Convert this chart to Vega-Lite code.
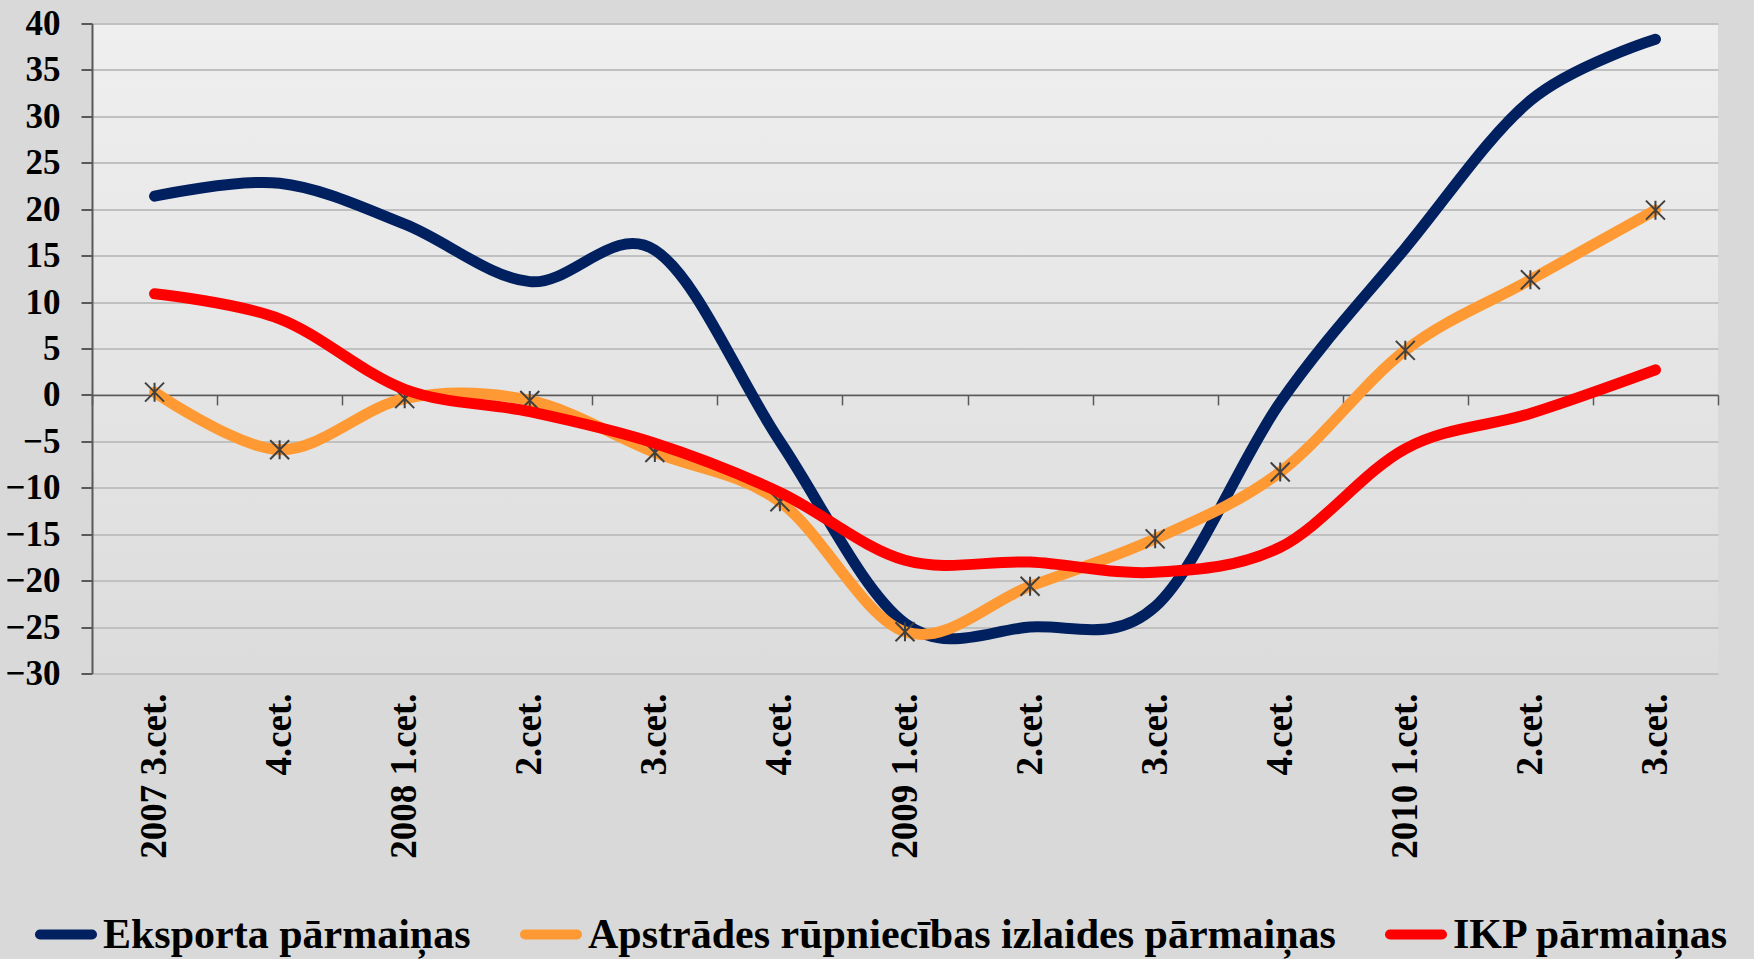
{
  "$schema": "https://vega.github.io/schema/vega-lite/v6.json",
  "width": 1626,
  "height": 650,
  "autosize": {"type": "none"},
  "padding": {"left": 92, "top": 23.5, "right": 36, "bottom": 285.5},
  "background": "#d9d9d9",
  "config": {
    "view": {
      "stroke": null,
      "fill": {"gradient": "linear", "x1": 0, "y1": 0, "x2": 0, "y2": 1, "stops": [{"offset": 0, "color": "#efefef"}, {"offset": 1, "color": "#dcdcdc"}]}
    },
    "font": "Liberation Serif"
  },
  "data": {
    "values": [
      {"q": "2007 3.cet.", "s": "Eksporta pārmaiņas", "v": 21.4},
      {"q": "2007 4.cet.", "s": "Eksporta pārmaiņas", "v": 22.8},
      {"q": "2008 1.cet.", "s": "Eksporta pārmaiņas", "v": 18.4},
      {"q": "2008 2.cet.", "s": "Eksporta pārmaiņas", "v": 12.2},
      {"q": "2008 3.cet.", "s": "Eksporta pārmaiņas", "v": 15.6},
      {"q": "2008 4.cet.", "s": "Eksporta pārmaiņas", "v": -5.0},
      {"q": "2009 1.cet.", "s": "Eksporta pārmaiņas", "v": -24.6},
      {"q": "2009 2.cet.", "s": "Eksporta pārmaiņas", "v": -25.0},
      {"q": "2009 3.cet.", "s": "Eksporta pārmaiņas", "v": -22.8},
      {"q": "2009 4.cet.", "s": "Eksporta pārmaiņas", "v": -0.8},
      {"q": "2010 1.cet.", "s": "Eksporta pārmaiņas", "v": 15.8},
      {"q": "2010 2.cet.", "s": "Eksporta pārmaiņas", "v": 31.7},
      {"q": "2010 3.cet.", "s": "Eksporta pārmaiņas", "v": 38.3},
      {"q": "2007 3.cet.", "s": "Apstrādes rūpniecības izlaides pārmaiņas", "v": 0.3},
      {"q": "2007 4.cet.", "s": "Apstrādes rūpniecības izlaides pārmaiņas", "v": -5.9},
      {"q": "2008 1.cet.", "s": "Apstrādes rūpniecības izlaides pārmaiņas", "v": -0.4},
      {"q": "2008 2.cet.", "s": "Apstrādes rūpniecības izlaides pārmaiņas", "v": -0.6},
      {"q": "2008 3.cet.", "s": "Apstrādes rūpniecības izlaides pārmaiņas", "v": -6.2},
      {"q": "2008 4.cet.", "s": "Apstrādes rūpniecības izlaides pārmaiņas", "v": -11.5},
      {"q": "2009 1.cet.", "s": "Apstrādes rūpniecības izlaides pārmaiņas", "v": -25.5},
      {"q": "2009 2.cet.", "s": "Apstrādes rūpniecības izlaides pārmaiņas", "v": -20.6},
      {"q": "2009 3.cet.", "s": "Apstrādes rūpniecības izlaides pārmaiņas", "v": -15.5},
      {"q": "2009 4.cet.", "s": "Apstrādes rūpniecības izlaides pārmaiņas", "v": -8.3},
      {"q": "2010 1.cet.", "s": "Apstrādes rūpniecības izlaides pārmaiņas", "v": 4.8},
      {"q": "2010 2.cet.", "s": "Apstrādes rūpniecības izlaides pārmaiņas", "v": 12.4},
      {"q": "2010 3.cet.", "s": "Apstrādes rūpniecības izlaides pārmaiņas", "v": 19.9},
      {"q": "2007 3.cet.", "s": "IKP pārmaiņas", "v": 10.9},
      {"q": "2007 4.cet.", "s": "IKP pārmaiņas", "v": 8.2},
      {"q": "2008 1.cet.", "s": "IKP pārmaiņas", "v": 0.6},
      {"q": "2008 2.cet.", "s": "IKP pārmaiņas", "v": -1.8},
      {"q": "2008 3.cet.", "s": "IKP pārmaiņas", "v": -5.2},
      {"q": "2008 4.cet.", "s": "IKP pārmaiņas", "v": -10.5},
      {"q": "2009 1.cet.", "s": "IKP pārmaiņas", "v": -17.8},
      {"q": "2009 2.cet.", "s": "IKP pārmaiņas", "v": -18.0},
      {"q": "2009 3.cet.", "s": "IKP pārmaiņas", "v": -19.1},
      {"q": "2009 4.cet.", "s": "IKP pārmaiņas", "v": -16.4},
      {"q": "2010 1.cet.", "s": "IKP pārmaiņas", "v": -5.8},
      {"q": "2010 2.cet.", "s": "IKP pārmaiņas", "v": -2.0},
      {"q": "2010 3.cet.", "s": "IKP pārmaiņas", "v": 2.7}
    ]
  },
  "encoding": {
    "x": {
      "field": "q", "type": "ordinal",
      "scale": {"type": "band", "paddingInner": 0, "paddingOuter": 0,
        "domain": ["2007 3.cet.","2007 4.cet.","2008 1.cet.","2008 2.cet.","2008 3.cet.","2008 4.cet.","2009 1.cet.","2009 2.cet.","2009 3.cet.","2009 4.cet.","2010 1.cet.","2010 2.cet.","2010 3.cet."]},
      "axis": {
        "title": null, "offset": -278.6, "grid": false,
        "domainColor": "#595959", "domainWidth": 1.5,
        "tickBand": "extent", "tickSize": 10, "tickColor": "#595959", "tickWidth": 1.5,
        "labelAngle": -90, "labelAlign": "right", "labelBaseline": "middle",
        "labelPadding": 288, "labelFont": "Liberation Serif", "labelFontWeight": "bold",
        "labelFontSize": 37, "labelColor": "#000000", "labelOverlap": false,
        "labelExpr": "(datum.label == '2007 3.cet.' || test(/ 1\\.cet\\./, datum.label)) ? datum.label : slice(datum.label, 5)"
      }
    },
    "y": {
      "field": "v", "type": "quantitative",
      "scale": {"domain": [-30, 40], "nice": false, "zero": false},
      "axis": {
        "title": null, "values": [-30,-25,-20,-15,-10,-5,0,5,10,15,20,25,30,35,40],
        "grid": true, "gridColor": "#c0c0c0", "gridWidth": 2,
        "domainColor": "#595959", "domainWidth": 2,
        "tickColor": "#595959", "tickWidth": 2, "tickSize": 11,
        "labelPadding": 21, "labelFont": "Liberation Serif", "labelFontWeight": "bold",
        "labelFontSize": 35, "labelColor": "#000000", "labelOverlap": false
      }
    },
    "color": {
      "field": "s", "type": "nominal",
      "scale": {"domain": ["Eksporta pārmaiņas", "Apstrādes rūpniecības izlaides pārmaiņas", "IKP pārmaiņas"], "range": ["#002060", "#ff9933", "#ff0000"]},
      "legend": {
        "title": null, "orient": "none", "direction": "horizontal",
        "legendX": -57, "legendY": 880,
        "symbolType": "stroke", "symbolSize": 2704, "symbolStrokeWidth": 10,
        "labelFont": "Liberation Serif", "labelFontWeight": "bold", "labelFontSize": 42,
        "labelColor": "#000000", "labelOffset": 6, "columnPadding": 34,
        "labelLimit": 1000,
        "encode": {"symbols": {"update": {"strokeCap": {"value": "round"}}}}
      }
    }
  },
  "layer": [
    {
      "transform": [{"filter": "datum.s == 'Eksporta pārmaiņas'"}],
      "mark": {"type": "line", "interpolate": "cardinal", "strokeWidth": 11, "strokeCap": "round"}
    },
    {
      "transform": [{"filter": "datum.s == 'Apstrādes rūpniecības izlaides pārmaiņas'"}],
      "mark": {"type": "line", "interpolate": "cardinal", "strokeWidth": 11, "strokeCap": "round"}
    },
    {
      "transform": [{"filter": "datum.s == 'Apstrādes rūpniecības izlaides pārmaiņas'"}],
      "mark": {"type": "point", "shape": "M-1,-1L1,1M-1,1L1,-1M0,-1L0,1", "filled": false, "strokeWidth": 2, "size": 361, "opacity": 1},
      "encoding": {"color": {"value": "#404040"}}
    },
    {
      "transform": [{"filter": "datum.s == 'IKP pārmaiņas'"}],
      "mark": {"type": "line", "interpolate": "cardinal", "strokeWidth": 11, "strokeCap": "round"}
    }
  ]
}
